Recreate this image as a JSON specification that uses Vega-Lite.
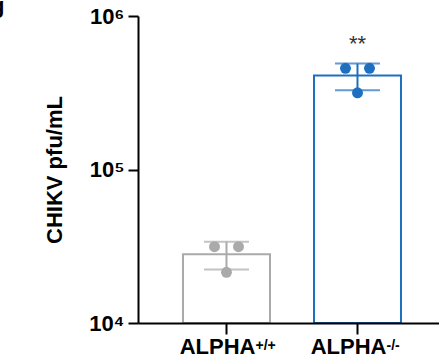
{
  "$schema": "https://vega.github.io/schema/vega-lite/v6.json",
  "width": 301,
  "height": 307,
  "autosize": {"type": "none"},
  "padding": {"left": 138, "top": 16, "right": 0, "bottom": 39},
  "background": "white",
  "config": {"view": {"stroke": null}, "font": "Liberation Sans"},
  "title": {"text": "g", "anchor": "start", "frame": "group", "orient": "top", "offset": -13, "baseline": "top", "dx": -147, "fontSize": 22, "fontWeight": "bold", "font": "Liberation Sans", "color": "black"},
  "datasets": {
    "reps": [
      {"group": "ALPHA+/+", "rep": "1", "pfu": 31400},
      {"group": "ALPHA+/+", "rep": "2", "pfu": 21400},
      {"group": "ALPHA+/+", "rep": "3", "pfu": 31400},
      {"group": "ALPHA-/-", "rep": "1", "pfu": 456000},
      {"group": "ALPHA-/-", "rep": "2", "pfu": 316000},
      {"group": "ALPHA-/-", "rep": "3", "pfu": 456000}
    ],
    "groups": [
      {"group": "ALPHA+/+", "sup": "+/+", "sig": "", "sigy": null},
      {"group": "ALPHA-/-", "sup": "-/-", "sig": "**", "sigy": 590000}
    ]
  },
  "resolve": {"scale": {"xOffset": "independent"}},
  "encoding": {
    "x": {
      "field": "group", "type": "nominal", "sort": ["ALPHA+/+", "ALPHA-/-"],
      "scale": {"paddingInner": 0.336, "paddingOuter": 0.3168, "align": 0.542},
      "axis": {
        "title": null, "labelAngle": 0, "labelExpr": "'ALPHA'", "labelAlign": "right", "labelOffset": 29,
        "labelFont": "Liberation Sans", "labelFontSize": 22, "labelFontWeight": "bold", "labelColor": "black",
        "labelPadding": 2, "tickSize": 11, "tickWidth": 2, "tickColor": "black",
        "domainColor": "black", "domainWidth": 2, "zindex": 1, "grid": false
      }
    }
  },
  "layer": [
    {
      "data": {"name": "reps"},
      "mark": {"type": "bar", "fill": "white", "strokeWidth": 2},
      "encoding": {
        "y": {
          "aggregate": "mean", "field": "pfu", "type": "quantitative",
          "scale": {"type": "log", "domain": [10000, 1000000], "nice": false},
          "axis": {
            "title": "CHIKV pfu/mL", "values": [10000, 100000, 1000000],
            "labelExpr": "datum.value == 1000000 ? '10⁶' : datum.value == 100000 ? '10⁵' : '10⁴'",
            "labelFont": "Liberation Sans", "labelFontSize": 22, "labelFontWeight": "bold", "labelColor": "black",
            "labelPadding": 4, "tickSize": 10, "tickWidth": 2, "tickColor": "black",
            "domainColor": "black", "domainWidth": 2, "zindex": 1, "grid": false,
            "titleFont": "Liberation Sans", "titleFontSize": 22, "titleFontWeight": "bold", "titleColor": "black",
            "titlePadding": 22
          }
        },
        "y2": {"datum": 10000},
        "stroke": {"field": "group", "type": "nominal", "scale": {"domain": ["ALPHA+/+", "ALPHA-/-"], "range": ["#aaaaaa", "#1f6fbf"]}, "legend": null}
      }
    },
    {
      "data": {"name": "reps"},
      "mark": {"type": "errorbar", "extent": "stdev", "ticks": {"size": 45, "thickness": 2}, "rule": {"strokeWidth": 2}},
      "encoding": {
        "y": {"field": "pfu", "type": "quantitative", "title": "CHIKV pfu/mL"},
        "color": {"field": "group", "type": "nominal", "scale": {"domain": ["ALPHA+/+", "ALPHA-/-"], "range": ["#aaaaaa", "#1f6fbf"]}, "legend": null}
      }
    },
    {
      "data": {"name": "reps"},
      "mark": {"type": "circle", "size": 120, "opacity": 1},
      "encoding": {
        "y": {"field": "pfu", "type": "quantitative"},
        "xOffset": {"field": "rep", "type": "nominal", "scale": {"type": "point", "padding": 0, "range": [31.5, 55.5]}},
        "color": {"field": "group", "type": "nominal", "scale": {"domain": ["ALPHA+/+", "ALPHA-/-"], "range": ["#aaaaaa", "#1f6fbf"]}, "legend": null}
      }
    },
    {
      "data": {"name": "groups"},
      "mark": {"type": "text", "align": "left", "baseline": "alphabetic", "dx": 29, "dy": 27, "fontSize": 14, "fontWeight": "bold", "font": "Liberation Sans", "color": "black"},
      "encoding": {
        "y": {"datum": 10000},
        "text": {"field": "sup"}
      }
    },
    {
      "data": {"name": "groups"},
      "transform": [{"filter": "datum.sig != ''"}],
      "mark": {"type": "text", "align": "center", "baseline": "alphabetic", "fontSize": 22, "font": "Liberation Sans", "color": "#333333"},
      "encoding": {
        "y": {"field": "sigy", "type": "quantitative"},
        "text": {"field": "sig"}
      }
    }
  ]
}
